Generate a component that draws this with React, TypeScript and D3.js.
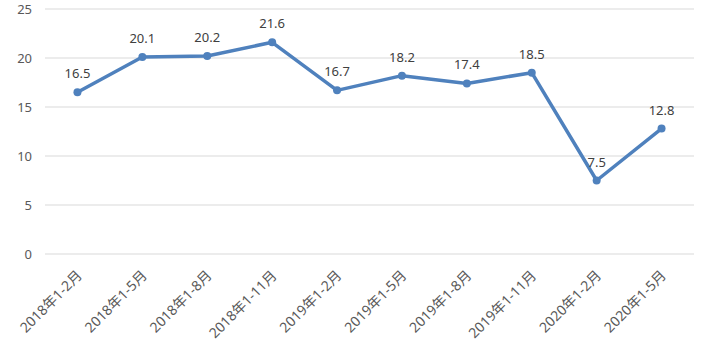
import React from "react";
import * as d3 from "d3";

const categories = [
  "2018年1-2月", "2018年1-5月", "2018年1-8月", "2018年1-11月",
  "2019年1-2月", "2019年1-5月", "2019年1-8月", "2019年1-11月",
  "2020年1-2月", "2020年1-5月",
];
const values = [16.5, 20.1, 20.2, 21.6, 16.7, 18.2, 17.4, 18.5, 7.5, 12.8];
const yTicks = [0, 5, 10, 15, 20, 25];

const W = 710, H = 354;
const margin = { left: 45, right: 16, top: 9, bottom: 100 };
const FONT = "'Noto Sans', 'Noto Sans CJK SC', sans-serif";
const BLUE = "#4f81bd";

export default function App() {
  const x = d3.scaleBand<string>().domain(categories).range([margin.left, W - margin.right]);
  const y = d3.scaleLinear().domain([0, 25]).range([H - margin.bottom, margin.top]);
  const cx = (c: string) => (x(c) ?? 0) + x.bandwidth() / 2;
  const line = d3.line<number>().x((_, i) => cx(categories[i])).y((d) => y(d));
  return (
    <svg width={W} height={H} style={{ position: "absolute", left: 0, top: 0, background: "#fff", fontFamily: FONT }}>
      {yTicks.map((t) => (
        <g key={t}>
          <line x1={margin.left} x2={W - margin.right} y1={y(t)} y2={y(t)} stroke="#d9d9d9" strokeWidth={1} />
          <text x={32} y={y(t)} dy="0.35em" textAnchor="end" fontSize={13} fill="#595959">{t}</text>
        </g>
      ))}
      {categories.map((c) => (
        <text key={c} transform={`translate(${cx(c) + 2},${y(0) + 19}) rotate(-45)`} textAnchor="end" dy="0.35em" fontSize={14} fill="#595959">{c}</text>
      ))}
      <path d={line(values) ?? ""} fill="none" stroke={BLUE} strokeWidth={3.5} strokeLinejoin="round" />
      {values.map((v, i) => (
        <g key={i}>
          <circle cx={cx(categories[i])} cy={y(v)} r={4} fill={BLUE} />
          <text x={cx(categories[i])} y={y(v) - 14} textAnchor="middle" fontSize={13} fill="#404040">{v.toFixed(1)}</text>
        </g>
      ))}
    </svg>
  );
}
